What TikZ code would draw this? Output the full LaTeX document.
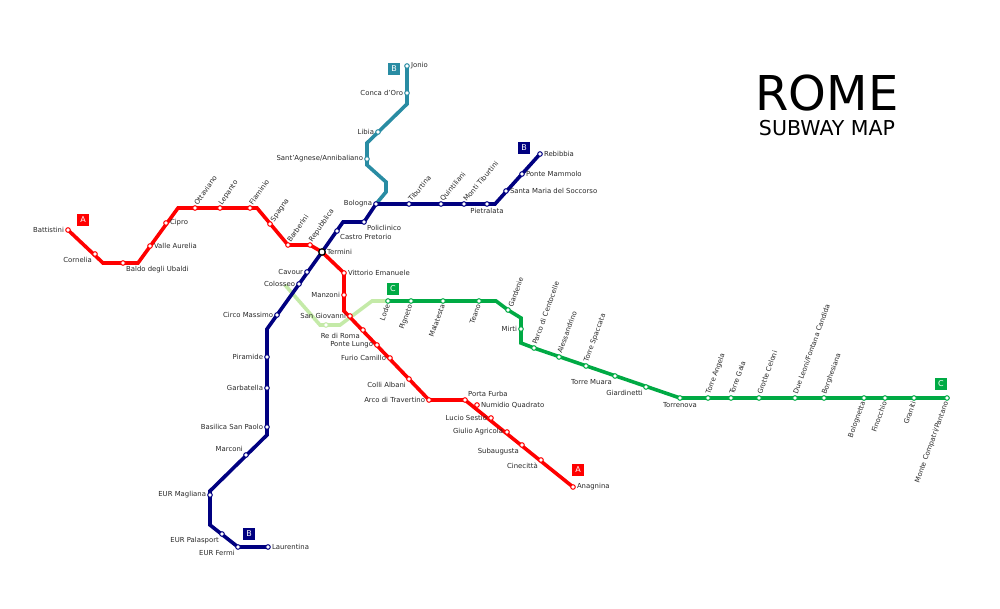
\documentclass[tikz,border=0pt]{standalone}
\usepackage{fontspec}
\setmainfont{DejaVu Sans}
\usepackage{tikz}

\definecolor{redA}{RGB}{255,0,0}
\definecolor{blueB}{RGB}{0,0,128}
\definecolor{tealB}{RGB}{41,140,163}
\definecolor{greenC}{RGB}{0,170,68}
\definecolor{lightC}{RGB}{196,234,168}
\definecolor{lbltext}{RGB}{40,40,40}

\tikzset{
  line/.style={line width=3.6pt,line join=miter,#1},
  st/.style={circle,draw=#1,fill=white,line width=1pt,inner sep=0pt,minimum size=4.6pt,label distance=1pt},
  lbl/.style={font=\fontsize{6.9}{8}\selectfont,text=lbltext,inner sep=1pt},
  ru/.style={lbl,rotate=#1,anchor=west},
  rd/.style={lbl,rotate=#1,anchor=east},
  badge/.style={fill=#1,text=white,font=\fontsize{8}{9}\selectfont,minimum size=12pt,inner sep=0pt}
}

\begin{document}
\begin{tikzpicture}[x=1pt,y=-1pt]
\useasboundingbox (0,0) rectangle (1000,609);

% line A
\coordinate (bat) at (68,230);  \coordinate (cor) at (95,254);  \coordinate (a1) at (103,263);
\coordinate (bal) at (123,263); \coordinate (a2) at (138,263);  \coordinate (val) at (150,246);
\coordinate (cip) at (166,223); \coordinate (a3) at (178,208);  \coordinate (ott) at (195,208);
\coordinate (lep) at (220,208); \coordinate (fla) at (250,208); \coordinate (a4) at (257,208);
\coordinate (spa) at (270,224); \coordinate (bar) at (288,245); \coordinate (rep) at (310,245);
\coordinate (ter) at (322,252); \coordinate (vit) at (344,273); \coordinate (man) at (344,295);
\coordinate (a5) at (344,311);  \coordinate (sgi) at (350,316); \coordinate (red) at (363,330);
\coordinate (pol) at (377,345); \coordinate (fur) at (390,358); \coordinate (col) at (409,379);
\coordinate (arc) at (429,400); \coordinate (pfu) at (465,400); \coordinate (num) at (477,405);
\coordinate (luc) at (491,418); \coordinate (giu) at (507,432); \coordinate (sub) at (522,445);
\coordinate (cin) at (541,460); \coordinate (ana) at (573,487);

% line B
\coordinate (lau) at (268,547); \coordinate (efe) at (238,547); \coordinate (epa) at (222,534);
\coordinate (b1) at (210,525);  \coordinate (ema) at (210,495); \coordinate (b2) at (210,491);
\coordinate (mar) at (246,455); \coordinate (b3) at (267,435);  \coordinate (bsp) at (267,427);
\coordinate (gar) at (267,388); \coordinate (pir) at (267,357); \coordinate (b4) at (267,329);
\coordinate (cma) at (277,315); \coordinate (cls) at (299,284); \coordinate (cav) at (307,272);
\coordinate (cpr) at (337,231); \coordinate (b5) at (343,222);  \coordinate (plc) at (364,222);
\coordinate (bol) at (376,204); \coordinate (tib) at (409,204); \coordinate (qui) at (441,204);
\coordinate (mti) at (464,204); \coordinate (pie) at (487,204); \coordinate (b6) at (495,204);
\coordinate (sms) at (506,191); \coordinate (pma) at (522,174); \coordinate (reb) at (540,154);

% line B1
\coordinate (t1) at (386,192);  \coordinate (t2) at (386,182);  \coordinate (t3) at (367,165);
\coordinate (sag) at (367,159); \coordinate (t4) at (367,143);  \coordinate (lib) at (378,132);
\coordinate (t5) at (407,104);  \coordinate (cdo) at (407,93);  \coordinate (jon) at (407,66);

% line C
\coordinate (c0) at (285,285);  \coordinate (c1) at (320,325);  \coordinate (sgc) at (326,325);
\coordinate (c2) at (340,325);  \coordinate (c3) at (372,301);
\coordinate (lod) at (388,301); \coordinate (pig) at (411,301); \coordinate (mal) at (443,301);
\coordinate (tea) at (479,301); \coordinate (c4) at (496,301);  \coordinate (gdn) at (508,310);
\coordinate (c5) at (521,318);  \coordinate (mir) at (521,329); \coordinate (c6) at (521,343);
\coordinate (pce) at (534,348); \coordinate (ale) at (559,357); \coordinate (tsp) at (586,366);
\coordinate (tmu) at (615,376); \coordinate (gia) at (646,387); \coordinate (tor) at (680,398);
\coordinate (tan) at (708,398); \coordinate (tga) at (731,398); \coordinate (gce) at (759,398);
\coordinate (dle) at (795,398); \coordinate (bor) at (824,398); \coordinate (bgn) at (864,398);
\coordinate (fin) at (885,398); \coordinate (gra) at (914,398); \coordinate (mcp) at (947,398);

% tracks
\draw[line=lightC] (c0) -- (c1) -- (c2) -- (c3) -- (lod);
\draw[line=tealB] (bol) -- (t1) -- (t2) -- (t3) -- (t4) -- (t5) -- (jon);
\draw[line=greenC] (lod) -- (c4) -- (gdn) -- (c5) -- (c6) -- (pce) -- (tor) -- (mcp);
\draw[line=blueB] (lau) -- (efe) -- (b1) -- (b2) -- (b3) -- (b4) -- (ter) -- (b5) -- (plc)
  -- (bol) -- (b6) -- (reb);
\draw[line=redA] (bat) -- (a1) -- (a2) -- (a3) -- (a4) -- (bar) -- (rep) -- (ter) -- (vit)
  -- (a5) -- (arc) -- (pfu) -- (ana);

% stations A
\node[st=redA,label={[lbl]left:Battistini}] (sBat) at (bat) {};
\node[st=redA,label={[lbl]below left:Cornelia}] (sCor) at (cor) {};
\node[st=redA,label={[lbl]below right:Baldo degli Ubaldi}] (sBal) at (bal) {};
\node[st=redA,label={[lbl]right:Valle Aurelia}] (sVal) at (val) {};
\node[st=redA,label={[lbl]right:Cipro}] (sCip) at (cip) {};
\node[st=redA,label={[ru=55]north:Ottaviano}] (sOtt) at (ott) {};
\node[st=redA,label={[ru=55]north:Lepanto}] (sLep) at (lep) {};
\node[st=redA,label={[ru=55]north:Flaminio}] (sFla) at (fla) {};
\node[st=redA,label={[ru=55]north east:Spagna}] (sSpa) at (spa) {};
\node[st=redA,label={[ru=55]north:Barberini}] (sBar) at (bar) {};
\node[st=redA,label={[ru=55]north:Repubblica}] (sRep) at (rep) {};
\node[circle,draw=black,fill=white,line width=1.3pt,inner sep=0pt,minimum size=6.5pt,
  label distance=1pt,label={[lbl]right:Termini}] (sTer) at (ter) {};
\node[st=redA,label={[lbl]right:Vittorio Emanuele}] (sVit) at (vit) {};
\node[st=redA,label={[lbl]left:Manzoni}] (sMan) at (man) {};
\node[st=redA,label={[lbl]left:San Giovanni}] (sSgi) at (sgi) {};
\node[st=redA,label={[lbl]below left:Re di Roma}] (sRed) at (red) {};
\node[st=redA,label={[lbl]left:Ponte Lungo}] (sPol) at (pol) {};
\node[st=redA,label={[lbl]left:Furio Camillo}] (sFur) at (fur) {};
\node[st=redA,label={[lbl]below left:Colli Albani}] (sCol) at (col) {};
\node[st=redA,label={[lbl]left:Arco di Travertino}] (sArc) at (arc) {};
\node[st=redA,label={[lbl]above right:Porta Furba}] (sPfu) at (pfu) {};
\node[st=redA,label={[lbl]right:Numidio Quadrato}] (sNum) at (num) {};
\node[st=redA,label={[lbl]left:Lucio Sestio}] (sLuc) at (luc) {};
\node[st=redA,label={[lbl]left:Giulio Agricola}] (sGiu) at (giu) {};
\node[st=redA,label={[lbl]below left:Subaugusta}] (sSub) at (sub) {};
\node[st=redA,label={[lbl]below left:Cinecittà}] (sCin) at (cin) {};
\node[st=redA,label={[lbl]right:Anagnina}] (sAna) at (ana) {};

% stations B
\node[st=blueB,label={[lbl]right:Laurentina}] (sLau) at (lau) {};
\node[st=blueB,label={[lbl]below left:EUR Fermi}] (sEfe) at (efe) {};
\node[st=blueB,label={[lbl]below left:EUR Palasport}] (sEpa) at (epa) {};
\node[st=blueB,label={[lbl]left:EUR Magliana}] (sEma) at (ema) {};
\node[st=blueB,label={[lbl]above left:Marconi}] (sMar) at (mar) {};
\node[st=blueB,label={[lbl]left:Basilica San Paolo}] (sBsp) at (bsp) {};
\node[st=blueB,label={[lbl]left:Garbatella}] (sGar) at (gar) {};
\node[st=blueB,label={[lbl]left:Piramide}] (sPir) at (pir) {};
\node[st=blueB,label={[lbl]left:Circo Massimo}] (sCma) at (cma) {};
\node[st=blueB,label={[lbl]left:Colosseo}] (sCls) at (cls) {};
\node[st=blueB,label={[lbl]left:Cavour}] (sCav) at (cav) {};
\node[st=blueB,label={[lbl]below right:Castro Pretorio}] (sCpr) at (cpr) {};
\node[st=blueB,label={[lbl]below right:Policlinico}] (sPlc) at (plc) {};
\node[st=blueB,label={[lbl]left:Bologna}] (sBol) at (bol) {};
\node[st=blueB,label={[ru=50]north:Tiburtina}] (sTib) at (tib) {};
\node[st=blueB,label={[ru=50]north:Quintiliani}] (sQui) at (qui) {};
\node[st=blueB,label={[ru=50]north:Monti Tiburtini}] (sMti) at (mti) {};
\node[st=blueB,label={[lbl]below:Pietralata}] (sPie) at (pie) {};
\node[st=blueB,label={[lbl]right:Santa Maria del Soccorso}] (sSms) at (sms) {};
\node[st=blueB,label={[lbl]right:Ponte Mammolo}] (sPma) at (pma) {};
\node[st=blueB,label={[lbl]right:Rebibbia}] (sReb) at (reb) {};

% stations B1
\node[st=tealB,label={[lbl]left:Sant'Agnese/Annibaliano}] (sSag) at (sag) {};
\node[st=tealB,label={[lbl]left:Libia}] (sLib) at (lib) {};
\node[st=tealB,label={[lbl]left:Conca d'Oro}] (sCdo) at (cdo) {};
\node[st=tealB,label={[lbl]right:Jonio}] (sJon) at (jon) {};

% stations C
\node[st=lightC] (sSgc) at (sgc) {};
\node[st=greenC,label={[rd=70]south:Lode}] (sLod) at (lod) {};
\node[st=greenC,label={[rd=70]south:Pigneto}] (sPig) at (pig) {};
\node[st=greenC,label={[rd=70]south:Malatesta}] (sMal) at (mal) {};
\node[st=greenC,label={[rd=70]south:Teano}] (sTea) at (tea) {};
\node[st=greenC,label={[ru=70]north east:Gardenie}] (sGdn) at (gdn) {};
\node[st=greenC,label={[lbl]left:Mirti}] (sMir) at (mir) {};
\node[st=greenC,label={[ru=70]north:Parco di Centocelle}] (sPce) at (pce) {};
\node[st=greenC,label={[ru=70]north:Alessandrino}] (sAle) at (ale) {};
\node[st=greenC,label={[ru=70]north:Torre Spaccata}] (sTsp) at (tsp) {};
\node[st=greenC,label={[lbl]below left:Torre Muara}] (sTmu) at (tmu) {};
\node[st=greenC,label={[lbl]below left:Giardinetti}] (sGia) at (gia) {};
\node[st=greenC,label={[lbl]below:Torrenova}] (sTor) at (tor) {};
\node[st=greenC,label={[ru=70]north:Torre Angela}] (sTan) at (tan) {};
\node[st=greenC,label={[ru=70]north:Torre Gaia}] (sTga) at (tga) {};
\node[st=greenC,label={[ru=70]north:Grotte Celoni}] (sGce) at (gce) {};
\node[st=greenC,label={[ru=70]north:Due Leoni/Fontana Candida}] (sDle) at (dle) {};
\node[st=greenC,label={[ru=70]north:Borghesiana}] (sBor) at (bor) {};
\node[st=greenC,label={[rd=70]south:Bolognetta}] (sBgn) at (bgn) {};
\node[st=greenC,label={[rd=70]south:Finocchio}] (sFin) at (fin) {};
\node[st=greenC,label={[rd=70]south:Graniti}] (sGra) at (gra) {};
\node[st=greenC,label={[rd=70]south:Monte Compatri/Pantano}] (sMcp) at (mcp) {};

% badges
\node[badge=redA] (bdA1) at (83,220) {A};
\node[badge=redA] (bdA2) at (578,470) {A};
\node[badge=tealB] (bdB1) at (394,69) {B};
\node[badge=blueB] (bdB2) at (524,148) {B};
\node[badge=blueB] (bdB3) at (249,534) {B};
\node[badge=greenC] (bdC1) at (393,289) {C};
\node[badge=greenC] (bdC2) at (941,384) {C};

% title
\node[font=\fontsize{48}{50}\selectfont,inner sep=0pt] (title) at (827,93) {ROME};
\node[font=\fontsize{20.5}{22}\selectfont,inner sep=0pt] (subtitle) at (827,128) {SUBWAY MAP};
\end{tikzpicture}
\end{document}
